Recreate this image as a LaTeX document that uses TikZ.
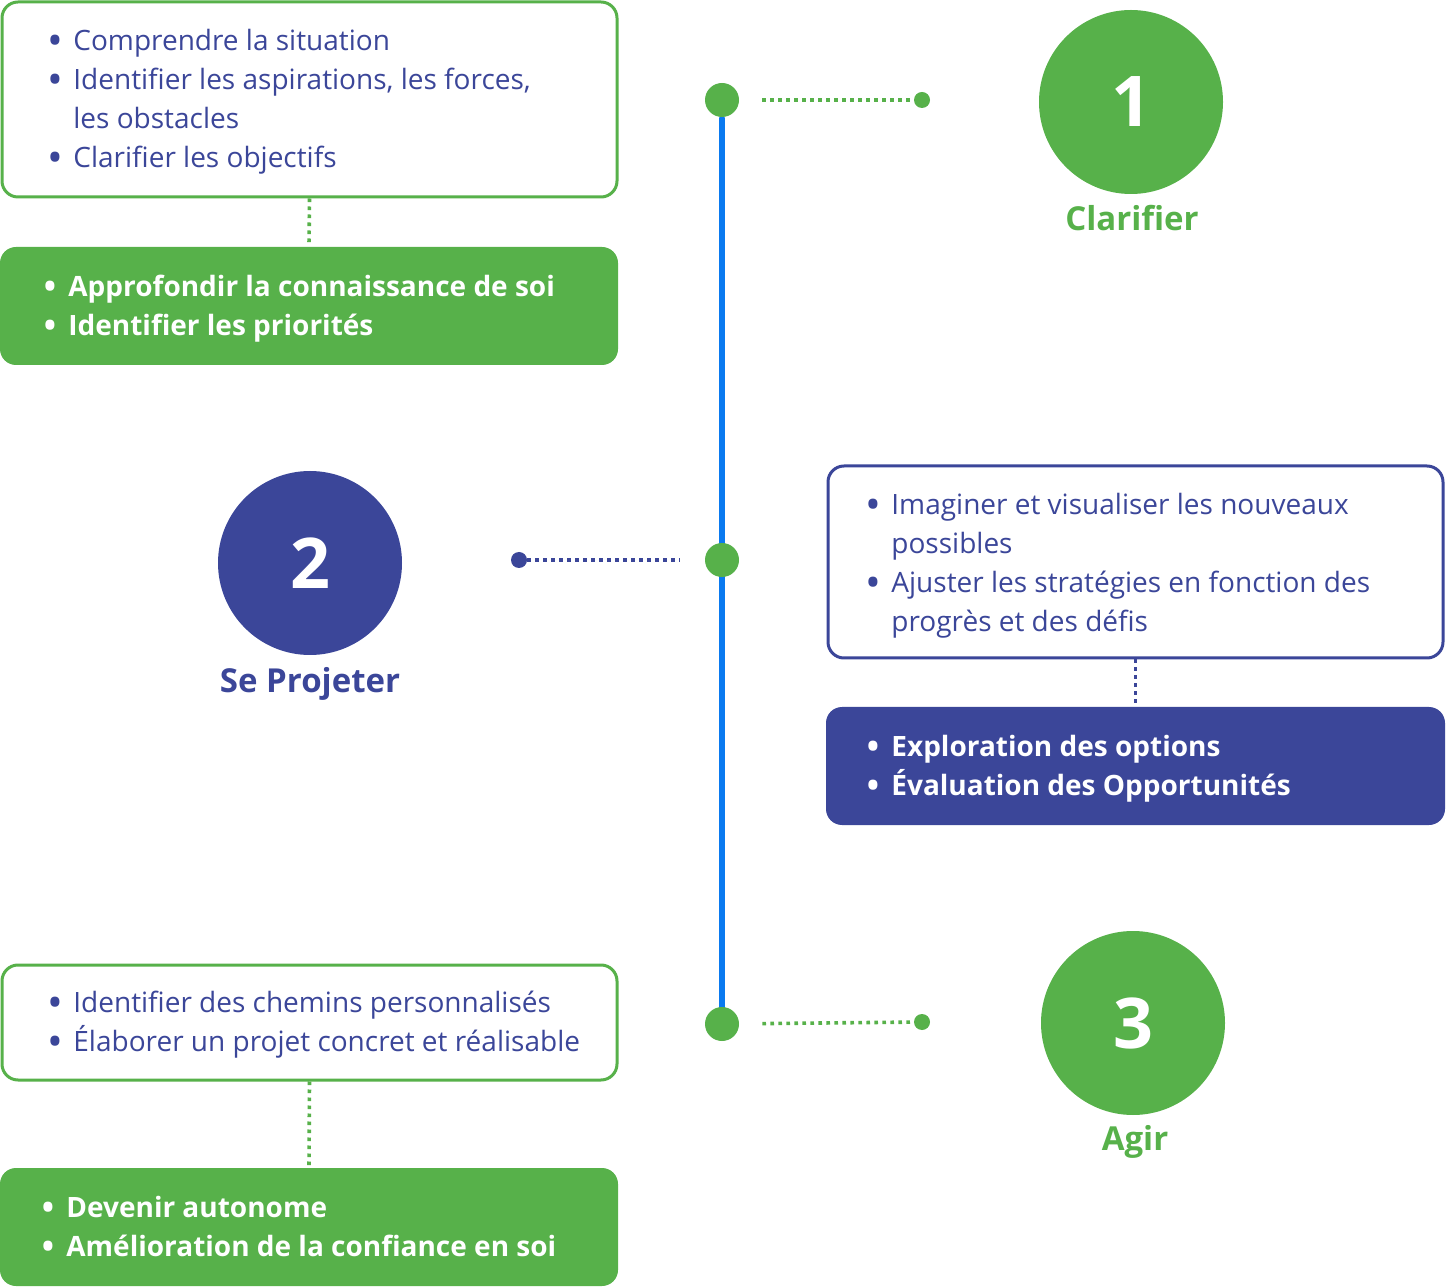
\documentclass[tikz,border=0pt]{standalone}
\usepackage{fontspec}
\setmainfont{Open Sans}
\usetikzlibrary{backgrounds}

\definecolor{grn}{RGB}{87,177,74}
\definecolor{navy}{RGB}{59,70,153}
\definecolor{lineblue}{RGB}{10,122,240}

\newcommand{\bul}{\makebox[13pt][l]{\raisebox{-2.4pt}{\scalebox{1.5}{\mdseries•}}}}
\newcommand{\cont}{\hspace*{13pt}}

\tikzset{
  box/.style={rectangle, rounded corners=8pt, line width=1.5pt, inner sep=0pt},
  txt/.style={anchor=west, align=left, inner sep=0pt, font=\fontsize{14}{19.5}\selectfont},
  btxt/.style={txt, font=\fontsize{14}{19.5}\selectfont\bfseries, text=white},
  bigdot/.style={circle, fill=grn, minimum size=17pt, inner sep=0pt},
  smalldot/.style={circle, minimum size=8pt, inner sep=0pt},
  stepcirc/.style={circle, minimum size=92pt, inner sep=0pt, text=white, font=\fontsize{35}{35}\selectfont\bfseries},
  lbl/.style={anchor=base, inner sep=0pt, font=\fontsize{16.5}{16.5}\selectfont\bfseries},
  dots/.style={line width=1.8pt, dash pattern=on 1.8pt off 2.2pt}
}

\begin{document}
\begin{tikzpicture}[x=0.5pt,y=-0.5pt]
    \useasboundingbox (0,0) rectangle (1446,1288);
    % boxes
    \node[box, draw=grn, fill=white, minimum width=307.5pt, minimum height=97.5pt] (b1) at (309.5,99.5) {};
    \node[box, fill=grn, minimum width=309pt, minimum height=59pt] (b2) at (309,306) {};
    \node[box, draw=navy, fill=white, minimum width=307.5pt, minimum height=96pt] (b3) at (1135.5,562) {};
    \node[box, fill=navy, minimum width=309.5pt, minimum height=59pt] (b4) at (1135.5,766) {};
    \node[box, draw=grn, fill=white, minimum width=307.5pt, minimum height=57.5pt] (b5) at (309.5,1022.5) {};
    \node[box, fill=grn, minimum width=309pt, minimum height=59pt] (b6) at (309,1227) {};

    \node[txt, text=navy] (t1) at (47,101.5) {\bul Comprendre la situation\\
        \bul Identifier les aspirations, les forces,\\
        \cont les obstacles\\
        \bul Clarifier les objectifs};
    \node[btxt] (t2) at (42,308.5) {\bul Approfondir la connaissance de soi\\
        \bul Identifier les priorités};
    \node[txt, text=navy] (t3) at (865,565.5) {\bul Imaginer et visualiser les nouveaux\\
        \cont possibles\\
        \bul Ajuster les stratégies en fonction des\\
        \cont progrès et des défis};
    \node[btxt] (t4) at (865,768.5) {\bul Exploration des options\\
        \bul Évaluation des Opportunités};
    \node[txt, text=navy] (t5) at (47,1024.5) {\bul Identifier des chemins personnalisés\\
        \bul Élaborer un projet concret et réalisable};
    \node[btxt] (t6) at (40,1228.5) {\bul Devenir autonome\\
        \bul Amélioration de la confiance en soi};

    \draw[dots, grn] (b1.south) -- (b2.north);
    \draw[dots, navy] (b3.south) -- (b4.north);
    \draw[dots, grn] (b5.south) -- (b6.north);

    % timeline
    \node[bigdot] (d1) at (722,100) {};
    \node[bigdot] (d2) at (722,560) {};
    \node[bigdot] (d3) at (722,1024) {};
    \begin{scope}[on background layer]
        \draw[lineblue, line width=3pt, line cap=round] ([yshift=-0.5pt]d1.south) -- (d3.center);
    \end{scope}

    \node[smalldot, fill=grn] (s1) at (922,100) {};
    \node[smalldot, fill=navy] (s2) at (519,560) {};
    \node[smalldot, fill=grn] (s3) at (922,1022) {};
    \draw[dots, grn, shorten <=11.5pt] (d1) -- (s1);
    \draw[dots, navy, shorten >=12.5pt] (s2) -- (d2);
    \draw[dots, grn, shorten <=11.5pt] (d3) -- (s3);

    % steps
    \node[stepcirc, fill=grn] (c1) at (1131,102) {1};
    \node[stepcirc, fill=navy] (c2) at (310,563) {2};
    \node[stepcirc, fill=grn] (c3) at (1133,1023) {3};
    \node[lbl, text=grn] (l1) at (1132,231) {Clarifier};
    \node[lbl, text=navy] (l2) at (310,692) {Se Projeter};
    \node[lbl, text=grn] (l3) at (1135,1150) {Agir};
\end{tikzpicture}
\end{document}
